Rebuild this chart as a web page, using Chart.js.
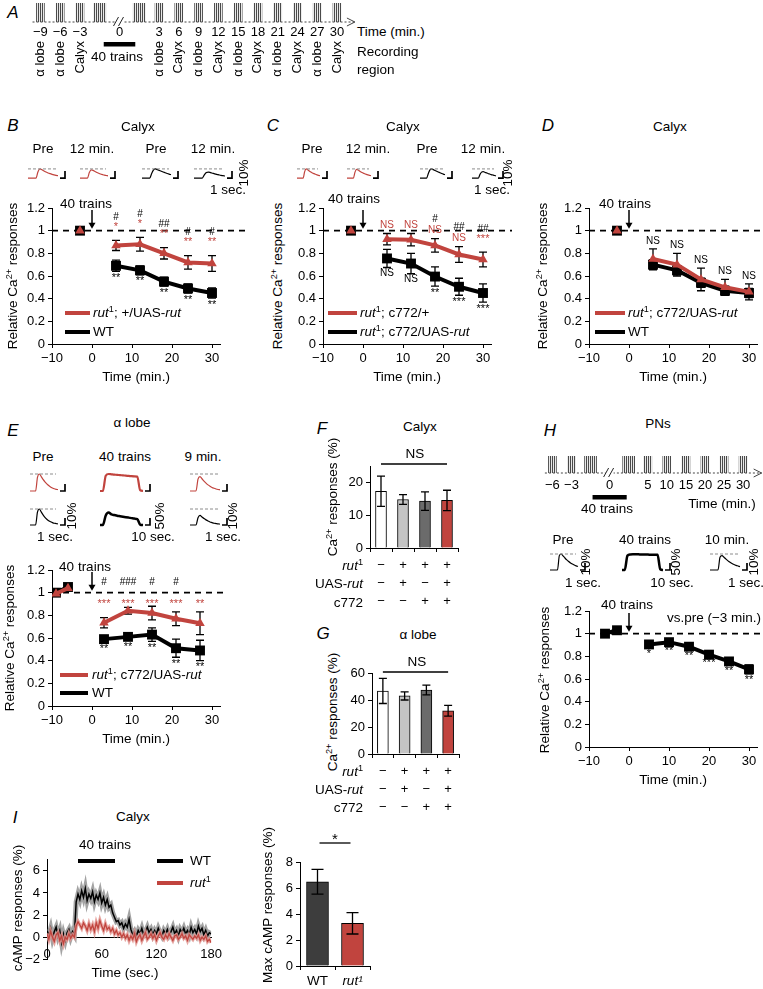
<!DOCTYPE html>
<html><head><meta charset="utf-8">
<script src="https://cdn.jsdelivr.net/npm/chart.js@4.4.1/dist/chart.umd.min.js"></script>
<style>
body{margin:0;background:#fff;}
#fig{position:relative;width:763px;height:989px;overflow:hidden;font-family:'Liberation Sans',Arial,sans-serif;color:#000}
#fig canvas{position:absolute}
.t{position:absolute;white-space:nowrap;font-size:13.5px;line-height:1}
.t sup{font-size:0.68em;vertical-align:super;line-height:0}
.sw{position:absolute;height:4px}
</style></head><body><div id="fig"></div><script>
var FIG = document.getElementById('fig');
var FONT = "'Liberation Sans', Arial, sans-serif";
var RED = '#c1443e';
Chart.defaults.font.family = FONT;
Chart.defaults.font.size = 13;
Chart.defaults.color = '#000';
Chart.defaults.animation = false;
Chart.defaults.responsive = false;
Chart.defaults.devicePixelRatio = 1;
Chart.defaults.events = [];
Chart.defaults.plugins.legend.display = false;
Chart.defaults.plugins.tooltip.enabled = false;

// ---------- data ----------
// A timeline
var tlA = ['\u22129','\u22126','\u22123','','0','','3','6','9','12','15','18','21','24','27','30'];
var regionA = ['\u03b1 lobe','\u03b1 lobe','Calyx','','','','\u03b1 lobe','Calyx','\u03b1 lobe','Calyx','\u03b1 lobe','Calyx','\u03b1 lobe','Calyx','\u03b1 lobe','Calyx'];
var imgA = [1,1,1,null,null,null,1,1,1,1,1,1,1,1,1,1];
var condA = [null,null,null,1,null,1,null,null,null,null,null,null,null,null,null,null];

// B calyx
var timesBCD = [-3, 6, 12, 18, 24, 30];
var bRescue = [1.0, 0.87, 0.88, 0.80, 0.72, 0.71];
var bRescueErr = [0.02, 0.045, 0.06, 0.05, 0.06, 0.07];
var bWT = [1.0, 0.69, 0.65, 0.55, 0.49, 0.45];
var bWTErr = [0.02, 0.05, 0.04, 0.04, 0.04, 0.045];
var bRescueSig = ['', '*', '*', '**', '**', '**'];
var bHash = ['', '#', '#', '##', '#', '#'];
var bWTSig = ['', '**', '**', '**', '**', '**'];

// C calyx
var cCtrl = [1.0, 0.925, 0.92, 0.87, 0.79, 0.745];
var cCtrlErr = [0.02, 0.05, 0.055, 0.06, 0.07, 0.065];
var cRescue = [1.0, 0.755, 0.71, 0.595, 0.505, 0.45];
var cRescueErr = [0.02, 0.08, 0.09, 0.085, 0.075, 0.08];
var cCtrlSig = ['', 'NS', 'NS', 'NS', 'NS', '***'];
var cHash = ['', '', '', '#', '##', '##'];
var cRescueSig = ['', 'NS', 'NS', '**', '***', '***'];

// D calyx
var dRescue = [1.0, 0.75, 0.70, 0.57, 0.50, 0.46];
var dRescueErr = [0.02, 0.09, 0.10, 0.10, 0.07, 0.07];
var dWT = [1.0, 0.70, 0.65, 0.54, 0.47, 0.45];
var dWTErr = [0.02, 0.045, 0.04, 0.04, 0.04, 0.04];
var dSig = ['', 'NS', 'NS', 'NS', 'NS', 'NS'];

// E alpha lobe
var timesE = [-9, -6, 3, 9, 15, 21, 27];
var eRescue = [0.99, 1.04, 0.735, 0.84, 0.82, 0.77, 0.73];
var eRescueErr = [0.02, 0.02, 0.045, 0.03, 0.06, 0.06, 0.10];
var eWT = [1.0, 1.05, 0.59, 0.61, 0.63, 0.51, 0.49];
var eWTErr = [0.02, 0.02, 0.03, 0.03, 0.06, 0.08, 0.09];
var eRescueSig = ['', '', '***', '***', '***', '***', '**'];
var eHash = ['', '', '#', '###', '#', '#', ''];
var eWTSig = ['', '', '**', '**', '**', '**', '**'];

// F, G basal responses
var genoLabels = [['\u2212','\u2212','\u2212'], ['+','+','\u2212'], ['+','\u2212','+'], ['+','+','+']];
var genoColors = ['#ffffff', '#c4c4c4', '#6b6b6b', RED];
var fCalyx = [17.3, 14.8, 14.3, 14.5];
var fCalyxErr = [4.6, 1.5, 2.8, 3.1];
var gLobe = [46.7, 43, 47.4, 32];
var gLobeErr = [9.3, 3, 3.6, 4];

// H PNs
var tlH = ['\u22126','\u22123','','0','','5','10','15','20','25','30'];
var imgH = [1,1,null,null,null,1,1,1,1,1,1];
var condH = [null,null,1,null,1,null,null,null,null,null,null];
var timesH = [-6, -3, 5, 10, 15, 20, 25, 30];
var hPN = [1.0, 1.03, 0.905, 0.925, 0.885, 0.815, 0.755, 0.685];
var hPNErr = [0.015, 0.015, 0.025, 0.02, 0.025, 0.02, 0.025, 0.04];
var hSig = ['', '', '*', '**', '**', '***', '**', '**'];

// I cAMP traces, sampled every 2 s from 0 to 180 s
var camp_t = [];
for (var k = 0; k <= 90; k++) camp_t.push(k * 2);
var campWT = [0.6,0.2,0.8,-0.1,0.5,0.9,0.1,0.6,-0.5,0.3,-0.3,0.4,0.7,0.0,0.5,0.2,
  3.2,3.9,3.4,4.2,3.6,4.4,3.3,3.9,3.5,4.1,3.2,3.8,3.4,4.0,3.1,3.6,2.9,3.4,2.7,2.9,
  2.2,1.8,1.4,1.5,1.1,1.3,0.8,1.2,0.9,1.6,
  0.7,0.2,0.5,0.1,0.6,0.3,0.8,0.2,0.5,0.9,0.4,0.7,0.2,0.6,0.3,0.8,0.4,0.1,0.6,0.3,0.7,0.2,0.5,0.9,0.3,
  0.6,0.1,0.7,0.4,0.8,0.3,0.6,0.2,0.9,0.4,0.7,0.3,1.0,0.5,0.8,0.2,0.6,0.1,0.4,0.3];
var campRut = [0.3,-0.2,0.5,0.0,-0.4,0.2,0.4,-0.3,0.1,-0.6,0.0,-0.2,0.3,-0.1,0.2,0.0,
  1.0,1.4,1.1,0.8,1.3,1.0,0.6,1.2,0.7,1.1,0.5,1.3,0.8,1.5,1.0,0.6,1.2,0.7,0.9,0.5,
  0.8,0.3,0.6,0.2,0.4,0.0,0.3,-0.1,0.2,-0.3,
  0.1,-0.2,0.3,-0.4,0.0,0.2,-0.3,0.1,0.4,-0.2,0.0,0.3,-0.1,0.2,-0.3,0.1,0.4,0.0,-0.2,0.2,-0.1,0.3,0.0,-0.3,0.1,
  0.2,-0.2,0.0,0.3,-0.1,0.1,-0.3,0.2,0.0,-0.2,0.1,-0.1,0.2,-0.3,0.0,-0.2,0.1,-0.4,-0.2,-0.5];
var maxLabels = ['WT', 'rut\u00b9'];
var maxCamp = [6.48, 3.28];
var maxCampErr = [0.95, 0.82];

// example traces (relative to pre peak)
var insRedPre = [0,0,0,0,0,0.7,1.0,0.9,0.77,0.66,0.56,0.48,0.41,0.35,0.3,0.26];
var insRed12 = [0,0,0,0,0,0.6,0.9,0.84,0.72,0.61,0.52,0.44,0.38,0.32,0.28,0.24];
var insBlkPre = [0,0,0,0,0,0.5,0.9,1.0,0.92,0.83,0.74,0.66,0.58,0.5,0.43,0.37];
var insBlk12B = [0,0,0,0,0,0.35,0.6,0.65,0.6,0.53,0.46,0.4,0.35,0.3,0.26,0.22];
var insRed12C = [0,0,0,0,0,0.65,0.95,0.88,0.75,0.64,0.55,0.47,0.4,0.34,0.3,0.26];
var insBlk12C = [0,0,0,0,0,0.4,0.65,0.7,0.64,0.57,0.5,0.44,0.38,0.33,0.28,0.24];
var eRedPre = [0,0,0,0,0.8,1.0,0.85,0.68,0.54,0.42,0.32,0.24,0.18,0.13,0.1,0.08];
var eRed40 = [0,0,0.9,1.0,0.98,0.96,0.95,0.93,0.92,0.9,0.89,0.87,0.86,0.85,0.05,0];
var eRed9 = [0,0,0,0,0.7,0.85,0.72,0.58,0.46,0.36,0.28,0.21,0.16,0.12,0.09,0.07];
var eBlkPre = [0,0,0,0,0.8,1.0,0.82,0.63,0.48,0.36,0.27,0.2,0.15,0.11,0.09,0.07];
var eBlk40 = [0,0,0.6,0.78,0.66,0.62,0.58,0.55,0.52,0.49,0.46,0.43,0.4,0.37,0.03,0];
var eBlk9 = [0,0,0,0,0.45,0.6,0.5,0.4,0.32,0.25,0.19,0.15,0.11,0.09,0.07,0.06];
var hPre = [0,0,0,0,0,0.9,1.0,0.88,0.75,0.63,0.53,0.44,0.37,0.31,0.26,0.22];
var h40 = [0,0,0.9,0.97,0.98,0.98,0.98,0.97,0.97,0.97,0.96,0.96,0.96,0.95,0.05,0];
var h10 = [0,0,0,0,0,0.8,0.9,0.8,0.68,0.57,0.48,0.4,0.34,0.29,0.25,0.21];

// ---------- helpers ----------
function canvasAt(left, top, w, h) {
  var c = document.createElement('canvas');
  c.width = Math.round(w); c.height = Math.round(h);
  c.style.left = left + 'px'; c.style.top = top + 'px';
  c.style.width = Math.round(w) + 'px'; c.style.height = Math.round(h) + 'px';
  FIG.appendChild(c);
  return c;
}
function txt(html, x, y, o) {
  o = o || {};
  var d = document.createElement('div');
  d.className = 't'; d.innerHTML = html;
  d.style.left = x + 'px'; d.style.top = y + 'px';
  if (o.size) d.style.fontSize = o.size + 'px';
  if (o.italic) d.style.fontStyle = 'italic';
  if (o.color) d.style.color = o.color;
  var a = o.a || 'c';
  var tr = a === 'l' ? 'translate(0,-50%)' : a === 'r' ? 'translate(-100%,-50%)' : 'translate(-50%,-50%)';
  if (o.rot) tr = 'translate(-50%,-50%) rotate(-90deg)';
  d.style.transform = tr;
  FIG.appendChild(d);
}
function swatch(x0, x1, y, color) {
  var d = document.createElement('div');
  d.className = 'sw';
  d.style.left = x0 + 'px'; d.style.top = (y - 2) + 'px';
  d.style.width = (x1 - x0) + 'px'; d.style.background = color;
  FIG.appendChild(d);
}
function minus(v) { return String(v).replace('-', '\u2212'); }
function val(ds, i) { var d = ds.data[i]; return (d && typeof d === 'object') ? d.y : d; }
function axisStyle() {
  return { grid: { drawOnChartArea: false, drawTicks: true, tickLength: 4, color: '#000', lineWidth: 1 },
           border: { color: '#000', width: 1 } };
}
var stripeCanvas = document.createElement('canvas');
stripeCanvas.width = 2; stripeCanvas.height = 2;
var sg = stripeCanvas.getContext('2d');
sg.fillStyle = '#e8e8e8'; sg.fillRect(0, 0, 2, 2);
sg.fillStyle = '#4a4a4a'; sg.fillRect(0, 0, 1, 2);
var STRIPES = sg.createPattern(stripeCanvas, 'repeat');

function drawErr(chart, cap) {
  var ctx = chart.ctx, y = chart.scales.y;
  ctx.save();
  ctx.strokeStyle = '#000'; ctx.lineWidth = 1.3;
  chart.data.datasets.forEach(function (ds, di) {
    if (!ds.err) return;
    chart.getDatasetMeta(di).data.forEach(function (el, i) {
      var v = val(ds, i), e = ds.err[i];
      if (v == null || !e) return;
      var t = y.getPixelForValue(v + e), b = y.getPixelForValue(v - e);
      ctx.beginPath();
      ctx.moveTo(el.x, t); ctx.lineTo(el.x, b);
      ctx.moveTo(el.x - cap, t); ctx.lineTo(el.x + cap, t);
      ctx.moveTo(el.x - cap, b); ctx.lineTo(el.x + cap, b);
      ctx.stroke();
    });
  });
  ctx.restore();
}

var deco = {
  id: 'deco',
  beforeDatasetsDraw: function (chart, args, o) {
    var ctx = chart.ctx, a = chart.chartArea, y = chart.scales.y;
    if (o.dashY != null) {
      ctx.save();
      ctx.strokeStyle = '#000'; ctx.lineWidth = 1.8; ctx.setLineDash([6, 5]);
      var py = y.getPixelForValue(o.dashY);
      ctx.beginPath(); ctx.moveTo(a.left, py); ctx.lineTo(o.dashEnd, py); ctx.stroke();
      ctx.restore();
    }
    if (!o.errAfter) drawErr(chart, o.cap || 4);
  },
  afterDatasetsDraw: function (chart, args, o) {
    var ctx = chart.ctx, a = chart.chartArea, x = chart.scales.x, y = chart.scales.y;
    if (o.errAfter) drawErr(chart, o.cap || 4);
    ctx.save();
    if (o.arrowAt != null) {
      var px = x.getPixelForValue(o.arrowAt), y0 = a.top + 2, y1 = y.getPixelForValue(1) - 2;
      ctx.strokeStyle = '#000'; ctx.fillStyle = '#000'; ctx.lineWidth = 1.5;
      ctx.beginPath(); ctx.moveTo(px, y0); ctx.lineTo(px, y1 - 4); ctx.stroke();
      ctx.beginPath(); ctx.moveTo(px - 3.5, y1 - 6); ctx.lineTo(px + 3.5, y1 - 6); ctx.lineTo(px, y1); ctx.closePath(); ctx.fill();
    }
    if (o.bracket) {
      var m = chart.getDatasetMeta(0).data;
      var by = a.top - o.bracket.dy, ext = o.bracket.ext || 0;
      ctx.strokeStyle = '#000'; ctx.lineWidth = 1.3;
      ctx.beginPath(); ctx.moveTo(m[o.bracket.i0].x - ext, by); ctx.lineTo(m[o.bracket.i1].x + ext, by); ctx.stroke();
    }
    ctx.textAlign = 'center';
    chart.data.datasets.forEach(function (ds, di) {
      if (!ds.ann) return;
      chart.getDatasetMeta(di).data.forEach(function (el, i) {
        var v = val(ds, i), e = ds.err ? ds.err[i] : 0;
        var up = y.getPixelForValue(v + e) - 3, dn = y.getPixelForValue(v - e) + 1;
        ds.ann.forEach(function (an) {
          var s = an.txt[i];
          if (!s) return;
          var star = /^\*+$/.test(s);
          ctx.font = (star ? '11px ' : '10px ') + FONT;
          ctx.fillStyle = an.color;
          if (an.pos === 'below') {
            ctx.textBaseline = 'top'; ctx.fillText(s, el.x, dn); dn += 11;
          } else if (an.row != null) {
            ctx.textBaseline = 'middle'; ctx.fillText(s, el.x, y.getPixelForValue(an.row));
          } else if (star) {
            ctx.textBaseline = 'bottom'; ctx.fillText(s, el.x, up - 5); up -= 15;
          } else {
            ctx.textBaseline = 'bottom'; ctx.fillText(s, el.x, up); up -= 11;
          }
        });
      });
    });
    ctx.restore();
  }
};

var trc = {
  id: 'trc',
  afterDatasetsDraw: function (chart, args, o) {
    var ctx = chart.ctx, a = chart.chartArea, y = chart.scales.y;
    var p1 = y.getPixelForValue(1), p0 = y.getPixelForValue(0);
    ctx.save();
    if (o.dash) {
      ctx.strokeStyle = '#8c8c8c'; ctx.lineWidth = 1; ctx.setLineDash([3, 2]);
      ctx.beginPath(); ctx.moveTo(a.left, p1); ctx.lineTo(a.right - 2, p1); ctx.stroke();
      ctx.setLineDash([]);
    }
    if (o.bar) {
      ctx.strokeStyle = '#000'; ctx.lineWidth = 1.7;
      ctx.beginPath(); ctx.moveTo(a.right + 2, p0); ctx.lineTo(a.right + 7, p0); ctx.lineTo(a.right + 7, p0 - 7); ctx.stroke();
    }
    ctx.restore();
  }
};

var tl = {
  id: 'tl',
  afterDraw: function (chart, args, o) {
    var ctx = chart.ctx, a = chart.chartArea, x = chart.scales.x, yb = a.bottom;
    ctx.save();
    ctx.strokeStyle = '#444'; ctx.lineWidth = 1; ctx.setLineDash([2, 2]);
    ctx.beginPath(); ctx.moveTo(a.left + 2, yb); ctx.lineTo(o.arrowEnd, yb); ctx.stroke();
    ctx.setLineDash([]);
    ctx.beginPath(); ctx.moveTo(o.arrowEnd - 8, yb - 4); ctx.lineTo(o.arrowEnd, yb); ctx.lineTo(o.arrowEnd - 8, yb + 4); ctx.stroke();
    var bx = x.getPixelForValue(o.breakIndex);
    ctx.fillStyle = '#fff'; ctx.fillRect(bx - 4, yb - 2, 8, 4);
    ctx.strokeStyle = '#222';
    ctx.beginPath();
    ctx.moveTo(bx - 6, yb + 4); ctx.lineTo(bx - 1, yb - 5);
    ctx.moveTo(bx - 1, yb + 4); ctx.lineTo(bx + 4, yb - 5);
    ctx.stroke();
    var c0 = x.getPixelForValue(o.cond[0]), c1 = x.getPixelForValue(o.cond[1]);
    ctx.fillStyle = '#000';
    ctx.fillRect(c0 - o.condPad, yb + o.condDy - 2, c1 - c0 + 2 * o.condPad, 4.5);
    ctx.restore();
  }
};

// ---------- chart builders ----------
function linePanel(p) {
  var YW = 34, PT = 40, XH = 44, ppm = 4.0;
  var plotW = (p.xmax - p.xmin) * ppm;
  var PR = Math.max(12, p.dashEnd - (p.axisX + plotW) + 2);
  var left = p.axisX - YW;
  var c = canvasAt(left, p.yTop - PT, YW + plotW + PR, PT + (p.yBottom - p.yTop) + XH);
  var datasets = p.series.map(function (s) {
    return {
      data: p.times.map(function (t, i) { return { x: t, y: s.values[i] }; }),
      borderColor: s.color, backgroundColor: s.color, borderWidth: 4,
      pointStyle: s.marker, pointRadius: s.marker === 'rect' ? 7 : 5.5, pointBorderWidth: 0,
      segment: { borderColor: function (ctx) { return (ctx.p0.parsed.x < 0 && ctx.p1.parsed.x > 0) ? 'rgba(0,0,0,0)' : undefined; } },
      err: s.err, ann: s.ann
    };
  });
  var ax = axisStyle(), ay = axisStyle();
  new Chart(c, {
    type: 'line',
    data: { datasets: datasets },
    options: {
      layout: { padding: { top: PT, right: PR, left: 0, bottom: 0 } },
      scales: {
        x: { type: 'linear', min: p.xmin, max: p.xmax, grid: ax.grid, border: ax.border,
             afterFit: function (s) { s.height = XH; },
             ticks: { stepSize: 10, includeBounds: false, padding: 3, callback: function (v) { return minus(v); } },
             title: { display: true, text: 'Time (min.)', font: { size: 13.5 }, padding: { top: 2, bottom: 3 } } },
        y: { min: 0, max: 1.2, grid: ay.grid, border: ay.border,
             afterFit: function (s) { s.width = YW; },
             ticks: { stepSize: 0.2, includeBounds: false, padding: 3, callback: function (v) { return String(+v.toFixed(1)); } } }
      },
      plugins: { deco: { dashY: 1, dashEnd: p.dashEnd - left, arrowAt: 0 } }
    },
    plugins: [deco]
  });
}

function barPanel(p) {
  var YW = 30, PT = p.PT || 14;
  var left = p.axisX - YW;
  var c = canvasAt(left, p.yTop - PT, YW + (p.right - p.axisX) + 8, PT + (p.yBottom - p.yTop) + p.XH);
  var ay = axisStyle();
  new Chart(c, {
    type: 'bar',
    data: { labels: p.labels, datasets: [{ data: p.values, err: p.err, backgroundColor: p.colors,
      borderColor: '#000', borderWidth: 1, barThickness: p.barW }] },
    options: {
      layout: { padding: { top: PT, right: 8, left: 0, bottom: 0 } },
      scales: {
        x: { offset: true, grid: { offset: true, drawOnChartArea: false, tickLength: 4, color: '#000' },
             border: { color: '#000' }, afterFit: function (s) { s.height = p.XH; },
             ticks: { autoSkip: false, maxRotation: 0, padding: p.tickPad, font: p.tickFont } },
        y: { min: 0, max: p.ymax, grid: ay.grid, border: ay.border, afterFit: function (s) { s.width = YW; },
             ticks: { stepSize: p.step, includeBounds: false, padding: 3 } }
      },
      plugins: { deco: { errAfter: true, cap: p.cap || 4, bracket: p.bracket } }
    },
    plugins: [deco]
  });
}

function trace(x0, x1, peakY, baseY, values, color, o) {
  o = o || {};
  var d = baseY - peakY, PTOP = 5, PBOT = 3, BAR = 10;
  var c = canvasAt(x0, peakY - PTOP, (x1 - x0) + BAR, d + PTOP + PBOT);
  new Chart(c, {
    type: 'line',
    data: { labels: values.map(function (v, i) { return i; }),
            datasets: [{ data: values, borderColor: color, borderWidth: o.lw || 1.2, pointRadius: 0, cubicInterpolationMode: 'monotone' }] },
    options: {
      layout: { padding: { right: BAR, left: 0, top: 0, bottom: 0 } },
      scales: { x: { display: false }, y: { display: false, min: -PBOT / d, max: 1 + PTOP / d } },
      plugins: { trc: { dash: o.dash !== false, bar: o.bar !== false } }
    },
    plugins: [trc]
  });
}

function timeline(p) {
  var n = p.labels.length, W = n * p.slotW;
  var XH = 16, X2H = p.regions ? 42 : 0, PR = p.arrowEnd - (p.left + W) + 2, PB = p.regions ? 2 : 14;
  var c = canvasAt(p.left, p.barTop - 2, W + PR, (p.base - p.barTop) + 2 + XH + X2H + PB);
  var scales = {
    x: { type: 'category', offset: true, weight: 0, grid: { display: false, drawTicks: false }, border: { display: false },
         afterFit: function (s) { s.height = XH; },
         ticks: { autoSkip: false, maxRotation: 0, padding: p.tickPad, font: { size: 13 } } },
    y: { display: false, min: 0, max: 1 }
  };
  if (p.regions) {
    scales.x2 = { type: 'category', labels: p.regions, offset: true, position: 'bottom', weight: 1,
                  grid: { display: false, drawTicks: false }, border: { display: false },
                  afterFit: function (s) { s.height = X2H; },
                  ticks: { autoSkip: false, maxRotation: 90, minRotation: 90, padding: 3, font: { size: 13 } } };
  }
  new Chart(c, {
    type: 'bar',
    data: { labels: p.labels, datasets: [
      { data: p.img, backgroundColor: STRIPES, barThickness: 8, grouped: false },
      { data: p.cond, backgroundColor: STRIPES, barThickness: 12, grouped: false }
    ] },
    options: {
      layout: { padding: { top: 2, right: PR, left: 0, bottom: PB } },
      scales: scales,
      plugins: { tl: { arrowEnd: p.arrowEnd - p.left, breakIndex: p.breakIndex, cond: p.cond2, condDy: p.condDy, condPad: p.condPad } }
    },
    plugins: [tl]
  });
}

// ---------- panel A ----------
timeline({ labels: tlA, regions: regionA, img: imgA, cond: condA, left: 30.1, slotW: 19.8, barTop: 3, base: 22,
           arrowEnd: 355, breakIndex: 4, cond2: [3, 5], condDy: 22, condPad: -4, tickPad: 3 });
txt('40 trains', 117, 57);
txt('Time (min.)', 357, 32, { a: 'l' });
txt('Recording', 357, 52, { a: 'l' });
txt('region', 357, 70, { a: 'l' });

// ---------- panel B ----------
linePanel({ axisX: 52, yTop: 208, yBottom: 344, xmin: -10, xmax: 32, dashEnd: 250, times: timesBCD, series: [
  { values: bRescue, err: bRescueErr, color: RED, marker: 'triangle',
    ann: [{ txt: bRescueSig, color: RED, pos: 'above' }, { txt: bHash, color: '#000', pos: 'above' }] },
  { values: bWT, err: bWTErr, color: '#000', marker: 'rect', ann: [{ txt: bWTSig, color: '#000', pos: 'below' }] }
] });
trace(28, 58, 169, 178.3, insRedPre, RED);
trace(80, 108, 169, 178.3, insRed12, RED);
trace(142, 171, 169, 178.3, insBlkPre, '#000');
trace(194, 225, 169, 178.3, insBlk12B, '#000');

// ---------- panel C ----------
linePanel({ axisX: 323, yTop: 208, yBottom: 344, xmin: -10, xmax: 32, dashEnd: 512, times: timesBCD, series: [
  { values: cCtrl, err: cCtrlErr, color: RED, marker: 'triangle',
    ann: [{ txt: cCtrlSig, color: RED, pos: 'above' }, { txt: cHash, color: '#000', pos: 'above' }] },
  { values: cRescue, err: cRescueErr, color: '#000', marker: 'rect', ann: [{ txt: cRescueSig, color: '#000', pos: 'below' }] }
] });
trace(297, 320, 169, 178.3, insRedPre, RED);
trace(347, 371, 169, 178.3, insRed12C, RED);
trace(420, 445, 169, 178.3, insBlkPre, '#000');
trace(472, 496, 169, 178.3, insBlk12C, '#000');

// ---------- panel D ----------
linePanel({ axisX: 588.5, yTop: 208, yBottom: 344, xmin: -10, xmax: 32, dashEnd: 763, times: timesBCD, series: [
  { values: dRescue, err: dRescueErr, color: RED, marker: 'triangle', ann: [{ txt: dSig, color: '#000', pos: 'above' }] },
  { values: dWT, err: dWTErr, color: '#000', marker: 'rect' }
] });

// ---------- panel E ----------
linePanel({ axisX: 52, yTop: 570, yBottom: 706, xmin: -10, xmax: 32, dashEnd: 224, times: timesE, series: [
  { values: eRescue, err: eRescueErr, color: RED, marker: 'triangle',
    ann: [{ txt: eRescueSig, color: RED, pos: 'above', row: 0.9 }, { txt: eHash, color: '#000', pos: 'above', row: 1.09 }] },
  { values: eWT, err: eWTErr, color: '#000', marker: 'rect', ann: [{ txt: eWTSig, color: '#000', pos: 'below' }] }
] });
trace(30, 58, 474, 491, eRedPre, RED);
trace(100, 143, 474, 491, eRed40, RED, { dash: false, lw: 2.2 });
trace(190, 220, 474, 491, eRed9, RED);
trace(30, 58, 509, 525, eBlkPre, '#000');
trace(100, 143, 509, 525, eBlk40, '#000', { dash: false, lw: 2.5 });
trace(190, 220, 509, 525, eBlk9, '#000');

// ---------- panels F, G ----------
barPanel({ axisX: 370, yTop: 466, yBottom: 547.7, right: 458, ymax: 25, step: 10, labels: genoLabels,
           values: fCalyx, err: fCalyxErr, colors: genoColors, barW: 11, XH: 64, tickPad: 4,
           tickFont: { size: 13, lineHeight: 1.4 }, bracket: { i0: 0, i1: 3, dy: 2 } });
barPanel({ axisX: 372, yTop: 673, yBottom: 754, right: 459, ymax: 60, step: 20, labels: genoLabels,
           values: gLobe, err: gLobeErr, colors: genoColors, barW: 11, XH: 64, tickPad: 4,
           tickFont: { size: 13, lineHeight: 1.4 }, bracket: { i0: 0, i1: 3, dy: 1 } });

// ---------- panel H ----------
timeline({ labels: tlH, img: imgH, cond: condH, left: 540.35, slotW: 19.3, barTop: 456, base: 472.7,
           arrowEnd: 762, breakIndex: 3, cond2: [2, 4], condDy: 24, condPad: -2, tickPad: 5 });
trace(550, 578, 554, 570, hPre, '#000');
trace(622, 663, 554, 570, h40, '#000', { dash: false, lw: 2.5 });
trace(710, 740, 554, 570, h10, '#000');
linePanel({ axisX: 589.3, yTop: 610.7, yBottom: 746.7, xmin: -10, xmax: 32, dashEnd: 763, times: timesH, series: [
  { values: hPN, err: hPNErr, color: '#000', marker: 'rect', ann: [{ txt: hSig, color: '#000', pos: 'below' }] }
] });

// ---------- panel I ----------
(function () {
  var YW = 26, PT = 6, PB = 10, left = 47 - YW;
  var c = canvasAt(left, 855 - PT, YW + 175 + 10, PT + 105 + PB);
  function pts(arr) { return camp_t.map(function (t, i) { return { x: t, y: arr[i] }; }); }
  var ay = axisStyle();
  new Chart(c, {
    type: 'line',
    data: { datasets: [
      { data: pts(campRut), borderColor: RED, borderWidth: 1.3, pointRadius: 0 },
      { data: pts(campRut), borderColor: 'rgba(226,150,146,0.85)', borderWidth: 3.5, pointRadius: 0 },
      { data: pts(campWT), borderColor: '#000', borderWidth: 1.5, pointRadius: 0 },
      { data: pts(campWT), borderColor: '#a3a3a3', borderWidth: 5, pointRadius: 0 }
    ] },
    options: {
      layout: { padding: { top: PT, bottom: PB, right: 10, left: 0 } },
      scales: {
        x: { type: 'linear', min: 0, max: 180, position: { y: 0 }, grid: { display: false, drawTicks: false },
             border: { color: '#000' }, ticks: { stepSize: 60, padding: 10 } },
        y: { min: -2, max: 7, grid: ay.grid, border: ay.border, afterFit: function (s) { s.width = YW; },
             ticks: { stepSize: 2, includeBounds: false, padding: 3, autoSkip: false, callback: function (v) { return minus(v); } } }
      }
    }
  });
})();
barPanel({ axisX: 300, yTop: 861.7, yBottom: 966, right: 370, ymax: 8, step: 2, labels: maxLabels, PT: 26,
           values: maxCamp, err: maxCampErr, colors: ['#3d3d3d', RED], barW: 22, XH: 22, tickPad: 3, cap: 6,
           tickFont: function (ctx) { return { size: 13.5, style: ctx.index === 1 ? 'italic' : 'normal' }; },
           bracket: { i0: 0, i1: 1, dy: 19, ext: -2 } });

// ---------- text ----------
var letters = [['A', 13, 12], ['B', 13, 125], ['C', 273, 125], ['D', 548, 125], ['E', 13, 430],
               ['F', 322, 428], ['G', 323, 633], ['H', 550, 430], ['I', 15, 817]];
letters.forEach(function (l) { txt(l[0], l[1], l[2], { size: 17, italic: true }); });
txt('Calyx', 138, 127); txt('Calyx', 403, 127); txt('Calyx', 670, 127);
txt('\u03b1 lobe', 132, 423); txt('Calyx', 420, 427); txt('\u03b1 lobe', 418, 635);
txt('PNs', 658, 424); txt('Calyx', 133, 817);

var RUT = '<i>rut</i><sup>1</sup>';
var YT = 'Relative Ca<sup>2+</sup> responses';
// B
txt('Pre', 43, 149); txt('12 min.', 92, 149); txt('Pre', 156, 149); txt('12 min.', 213, 149);
txt('10%', 244, 173, { rot: true }); txt('1 sec.', 228, 190);
txt('40 trains', 86, 204); txt(YT, 13, 276, { rot: true });
swatch(65, 90, 313, RED); txt(RUT + '; +/UAS-<i>rut</i>', 93, 313, { a: 'l' });
swatch(65, 90, 332, '#000'); txt('WT', 93, 332, { a: 'l' });
// C
txt('Pre', 312, 149); txt('12 min.', 368, 149); txt('Pre', 427, 149); txt('12 min.', 483, 149);
txt('10%', 508, 173, { rot: true }); txt('1 sec.', 492, 190);
txt('40 trains', 354, 199); txt(YT, 278, 276, { rot: true });
swatch(328, 357, 313, RED); txt(RUT + '; c772/+', 360, 313, { a: 'l' });
swatch(328, 357, 332, '#000'); txt(RUT + '; c772/UAS-<i>rut</i>', 360, 332, { a: 'l' });
// D
txt('40 trains', 625, 204); txt(YT, 543, 276, { rot: true });
swatch(595, 625, 313, RED); txt(RUT + '; c772/UAS-<i>rut</i>', 628, 313, { a: 'l' });
swatch(595, 625, 332, '#000'); txt('WT', 628, 332, { a: 'l' });
// E
txt('Pre', 43, 457); txt('40 trains', 125, 457); txt('9 min.', 203, 457);
txt('10%', 72, 516, { rot: true }); txt('1 sec.', 55, 537);
txt('50%', 160, 516, { rot: true }); txt('10 sec.', 153, 537);
txt('10%', 233, 516, { rot: true }); txt('1 sec.', 223, 537);
txt('40 trains', 85, 567); txt(YT, 10, 638, { rot: true });
swatch(60, 88, 675, RED); txt(RUT + '; c772/UAS-<i>rut</i>', 92, 675, { a: 'l' });
swatch(60, 88, 693, '#000'); txt('WT', 92, 693, { a: 'l' });
// F, G
txt('Ca<sup>2+</sup> responses (%)', 333, 497, { rot: true });
txt('NS', 415, 454);
txt(RUT, 363, 566, { a: 'r' }); txt('UAS-<i>rut</i>', 363, 584, { a: 'r' }); txt('c772', 363, 603, { a: 'r' });
txt('Ca<sup>2+</sup> responses (%)', 333, 712, { rot: true });
txt('NS', 417, 662);
txt(RUT, 363, 772, { a: 'r' }); txt('UAS-<i>rut</i>', 363, 790, { a: 'r' }); txt('c772', 363, 808, { a: 'r' });
// H
txt('40 trains', 607, 509); txt('Time (min.)', 722, 504);
txt('Pre', 563, 540); txt('40 trains', 645, 540); txt('10 min.', 727, 540);
txt('10%', 586, 562, { rot: true }); txt('50%', 676, 562, { rot: true }); txt('10%', 754, 562, { rot: true });
txt('1 sec.', 583, 583); txt('10 sec.', 672, 583); txt('1 sec.', 746, 583);
txt('40 trains', 627, 605); txt('vs.pre (\u22123 min.)', 714, 618);
txt(YT, 545, 680, { rot: true });
// I
txt('40 trains', 105, 845);
swatch(78, 115, 861, '#000');
swatch(157, 183, 861, '#000'); txt('WT', 190, 861, { a: 'l' });
swatch(157, 183, 883, RED); txt(RUT, 190, 883, { a: 'l' });
txt('cAMP responses (%)', 18, 908, { rot: true });
txt('Time (sec.)', 125, 973);
txt('Max cAMP responses (%)', 268, 905, { rot: true });
txt('*', 335, 838, { size: 15 });
</script></body></html>
